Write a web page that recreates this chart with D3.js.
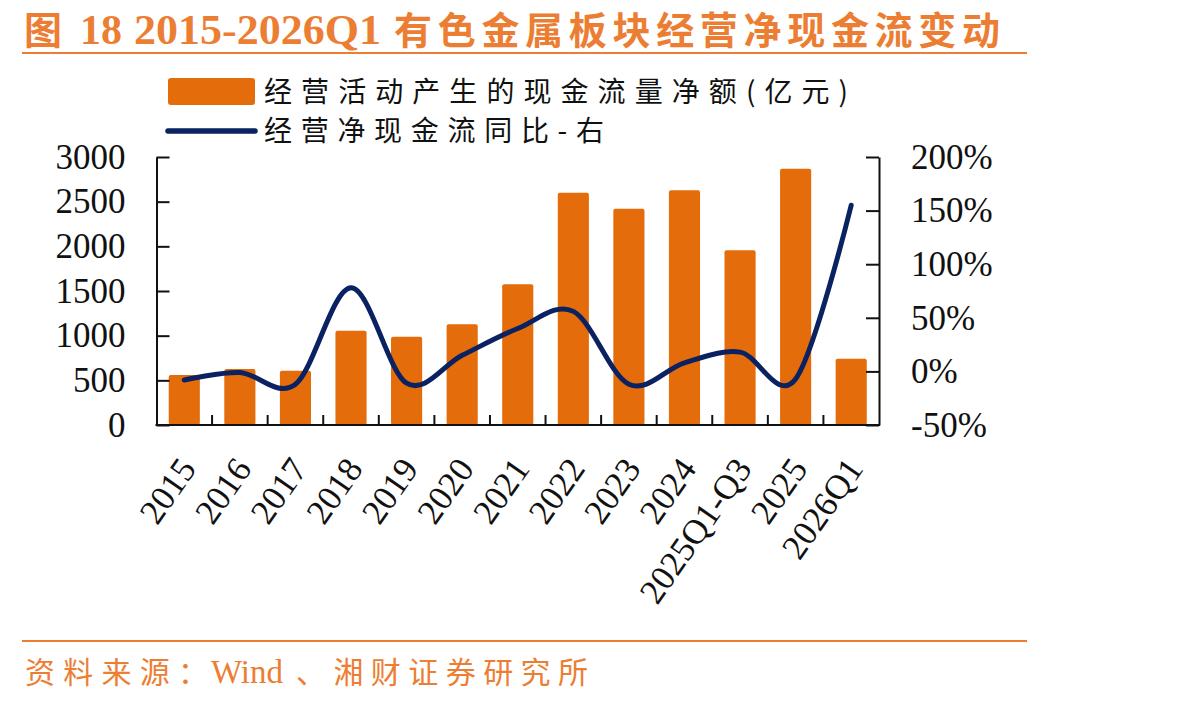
<!DOCTYPE html>
<html><head><meta charset="utf-8">
<script src="https://cdn.jsdelivr.net/npm/d3@7"></script>
<style>
body{margin:0;background:#fff;}
svg{display:block;}
</style></head>
<body>
<svg id="c" width="1190" height="702"></svg>
<script>
const categories = ["2015","2016","2017","2018","2019","2020","2021","2022","2023","2024","2025Q1-Q3","2025","2026Q1"];
const cashFlow = [560, 627, 608, 1056, 989, 1127, 1575, 2601, 2422, 2627, 1955, 2869, 742];
const yoy = [-8, -1, -12, 78, -11, 15, 40, 56, -12, 8, 18, -7, 155];
const leftTicks = [0, 500, 1000, 1500, 2000, 2500, 3000];
const rightTicks = [-50, 0, 50, 100, 150, 200];
const barName = "经营活动产生的现金流量净额(亿元)";
const lineName = "经营净现金流同比-右";
const titleText = ["图", "18", "2015-2026Q1", "有色金属板块经营净现金流变动"];
const sourceText = ["资料来源：", "Wind", "、湘财证券研究所"];

const ORANGE_T = "#EC7E33", BAR = "#E46C0A", NAVY = "#0B2262";
const serif = "'Liberation Serif','Times New Roman',serif";
const cjk = "'Noto Sans CJK SC','Noto Sans',sans-serif";

const svg = d3.select("#c");
const m = {left:156.5, right:879, top:157, bottom:425};

const x = d3.scaleBand().domain(categories).range([m.left, m.right]).padding(0);
const yL = d3.scaleLinear().domain([0,3000]).range([m.bottom, m.top]);
const yR = d3.scaleLinear().domain([-50,200]).range([m.bottom, m.top]);

// Title
const t = svg.append("text").attr("y", 44).attr("fill", ORANGE_T).attr("font-weight", "bold");
t.append("tspan").attr("x", 24).attr("font-family", cjk).attr("font-size", 38).text(titleText[0]);
t.append("tspan").attr("x", 80).attr("font-family", serif).attr("font-size", 42).text(titleText[1]);
t.append("tspan").attr("x", 134).attr("font-family", serif).attr("font-size", 42).attr("textLength", 247).attr("lengthAdjust","spacingAndGlyphs").text(titleText[2]);
t.append("tspan").attr("x", 394).attr("font-family", cjk).attr("font-size", 38).attr("textLength", 606).attr("lengthAdjust","spacing").text(titleText[3]);
svg.append("line").attr("x1",22).attr("x2",1027).attr("y1",53).attr("y2",53).attr("stroke",ORANGE_T).attr("stroke-width",2.2);

// Legend
svg.append("rect").attr("x",168).attr("y",78).attr("width",87).attr("height",27).attr("rx",3).attr("fill",BAR);
svg.append("text").attr("x",264).attr("y",92).attr("dy","0.36em").attr("font-family",cjk).attr("font-size",28)
  .attr("fill","#111").attr("textLength",584).attr("lengthAdjust","spacing").text(barName);
svg.append("line").attr("x1",168).attr("x2",255).attr("y1",131).attr("y2",131).attr("stroke",NAVY).attr("stroke-width",5.5).attr("stroke-linecap","round");
svg.append("text").attr("x",264).attr("y",131).attr("dy","0.36em").attr("font-family",cjk).attr("font-size",28)
  .attr("fill","#111").attr("textLength",340).attr("lengthAdjust","spacing").text(lineName);

// Bars
const bw = x.bandwidth()*0.56;
svg.append("g").selectAll("rect").data(categories).join("rect")
  .attr("x", d => x(d) + x.bandwidth()/2 - bw/2)
  .attr("y", (d,i) => yL(cashFlow[i]))
  .attr("width", bw)
  .attr("height", (d,i) => yL(0) - yL(cashFlow[i]))
  .attr("rx", 2)
  .attr("fill", BAR);

// Axes
const axL = svg.append("g").attr("transform",`translate(${m.left},0)`)
  .call(d3.axisLeft(yL).tickValues(leftTicks).tickSize(-13).tickPadding(31).tickSizeOuter(0).tickFormat(d3.format("d")));
const axR = svg.append("g").attr("transform",`translate(${m.right},0)`)
  .call(d3.axisRight(yR).tickValues(rightTicks).tickSize(-13).tickPadding(32).tickSizeOuter(0).tickFormat(d => d + "%"));
[axL, axR].forEach(a => {
  a.selectAll("text").attr("font-family", serif).attr("font-size", 35).attr("fill","#111");
  a.select(".domain").attr("stroke","#111").attr("stroke-width",2);
  a.selectAll(".tick line").attr("stroke","#111").attr("stroke-width",2);
});

// Bottom axis with ticks between categories
const axB = svg.append("g").attr("transform",`translate(0,${m.bottom})`);
axB.append("line").attr("x1", m.left-1).attr("x2", m.right+1).attr("stroke","#111").attr("stroke-width",2);
axB.selectAll("line.tk").data(categories.slice(1)).join("line").attr("class","tk")
  .attr("x1", d => x(d)).attr("x2", d => x(d)).attr("y1",0).attr("y2",-10)
  .attr("stroke","#111").attr("stroke-width",2);
axB.selectAll("text").data(categories).join("text")
  .attr("transform", d => `translate(${x(d)+x.bandwidth()/2+3},${462-m.bottom}) rotate(-55)`)
  .attr("text-anchor","end").attr("dy","0.35em")
  .attr("font-family", serif).attr("font-size", 35).attr("fill","#111")
  .text(d => d);

// Line
const line = d3.line()
  .x((d,i) => x(categories[i]) + x.bandwidth()/2)
  .y(d => yR(d))
  .curve(d3.curveCardinal.tension(0));
svg.append("path").datum(yoy).attr("d", line).attr("fill","none")
  .attr("stroke",NAVY).attr("stroke-width",5).attr("stroke-linecap","round").attr("stroke-linejoin","round");

// Source
svg.append("line").attr("x1",22).attr("x2",1027).attr("y1",641).attr("y2",641).attr("stroke",ORANGE_T).attr("stroke-width",2.2);
const s = svg.append("text").attr("y",683).attr("fill",ORANGE_T).attr("font-size",30);
s.append("tspan").attr("x",25).attr("font-family",cjk).attr("textLength",183).attr("lengthAdjust","spacing").text(sourceText[0]);
s.append("tspan").attr("x",211).attr("font-family",serif).attr("font-size",33).text(sourceText[1]);
s.append("tspan").attr("x",296).attr("font-family",cjk).attr("textLength",292).attr("lengthAdjust","spacing").text(sourceText[2]);
</script>
</body></html>
